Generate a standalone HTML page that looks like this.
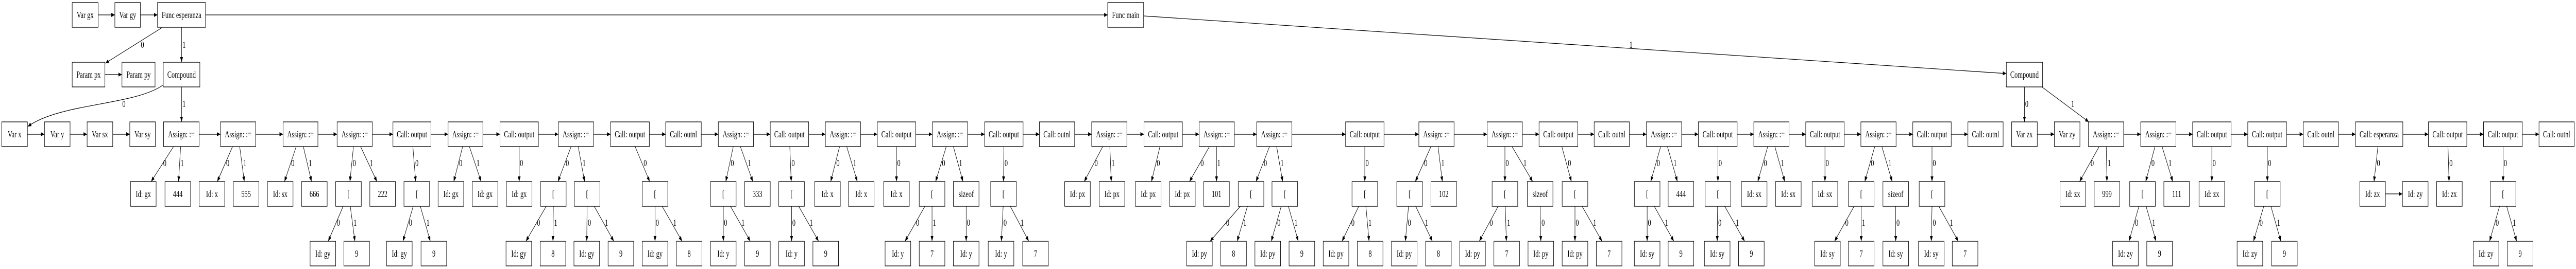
<!DOCTYPE html>
<html><head><meta charset="utf-8"><style>
html,body{margin:0;padding:0;background:#fff;width:100%;height:100%;overflow:hidden}
svg{display:block;width:100vw;height:100vh}
rect{fill:#fff;stroke:#000;stroke-width:1.3}
text{font-family:"Liberation Serif",serif;font-size:18px;text-anchor:middle;fill:#000}
text.l{text-anchor:start}
line,path.e{stroke:#000;stroke-width:1.2;fill:none;marker-end:url(#a)}
</style></head><body>
<svg viewBox="0 0 7244 523" preserveAspectRatio="none" xmlns="http://www.w3.org/2000/svg">
<defs><marker id="a" markerWidth="10" markerHeight="8" refX="10" refY="4" orient="auto" markerUnits="userSpaceOnUse"><path d="M0,0L10,4L0,8z" fill="#000"/></marker></defs>

<!-- Row 1 -->
<rect x="203" y="5" width="73" height="48"/><text x="239.5" y="35">Var gx</text>
<rect x="323" y="5" width="72" height="48"/><text x="359" y="35">Var gy</text>
<rect x="443" y="5" width="135" height="48"/><text x="510.5" y="35">Func esperanza</text>
<rect x="3115" y="5" width="101" height="48"/><text x="3165.5" y="35">Func main</text>
<line x1="276" y1="29" x2="323" y2="29"/>
<line x1="395" y1="29" x2="443" y2="29"/>
<line x1="578" y1="29" x2="3115" y2="29"/>

<!-- Row 2 -->
<rect x="203" y="121" width="92" height="48"/><text x="249" y="151">Param px</text>
<rect x="343" y="121" width="93" height="48"/><text x="389.5" y="151">Param py</text>
<rect x="459" y="121" width="103" height="48"/><text x="510.5" y="151">Compound</text>
<rect x="5642" y="121" width="102" height="48"/><text x="5693" y="151">Compound</text>
<line x1="295" y1="145" x2="343" y2="145"/>
<line x1="455" y1="54" x2="296" y2="123"/><text class="l" x="396" y="93">0</text>
<line x1="510.5" y1="53" x2="510.5" y2="121"/><text class="l" x="513" y="93">1</text>
<line x1="3216" y1="31" x2="5642" y2="143"/><text class="l" x="4582" y="93">1</text>

<!-- Compound edges -->
<path class="e" d="M459,165 C380,205 170,200 78,246"/><text class="l" x="344" y="208">0</text>
<line x1="510.5" y1="169" x2="510.5" y2="237"/><text class="l" x="513" y="208">1</text>
<line x1="5693" y1="169" x2="5693" y2="237"/><text class="l" x="5695" y="208">0</text>
<line x1="5742" y1="169" x2="5874" y2="237"/><text class="l" x="5824" y="208">1</text>

<!-- Row 3 -->
<g>
<rect x="5" y="237" width="72" height="48"/><text x="41" y="267">Var x</text>
<rect x="125" y="237" width="72" height="48"/><text x="161" y="267">Var y</text>
<rect x="245" y="237" width="72" height="48"/><text x="281" y="267">Var sx</text>
<rect x="365" y="237" width="72" height="48"/><text x="401" y="267">Var sy</text>
<rect x="460" y="237" width="100" height="48"/><text x="510" y="267">Assign: :=</text>
<rect x="620" y="237" width="99" height="48"/><text x="669.5" y="267">Assign: :=</text>
<rect x="796" y="237" width="98" height="48"/><text x="845" y="267">Assign: :=</text>
<rect x="948" y="237" width="99" height="48"/><text x="997.5" y="267">Assign: :=</text>
<rect x="1105" y="237" width="107" height="48"/><text x="1158.5" y="267">Call: output</text>
<rect x="1260" y="237" width="98" height="48"/><text x="1309" y="267">Assign: :=</text>
<rect x="1406" y="237" width="108" height="48"/><text x="1460" y="267">Call: output</text>
<rect x="1570" y="237" width="99" height="48"/><text x="1619.5" y="267">Assign: :=</text>
<rect x="1717" y="237" width="109" height="48"/><text x="1771.5" y="267">Call: output</text>
<rect x="1872" y="237" width="100" height="48"/><text x="1922" y="267">Call: outnl</text>
<rect x="2020" y="237" width="99" height="48"/><text x="2069.5" y="267">Assign: :=</text>
<rect x="2166" y="237" width="108" height="48"/><text x="2220" y="267">Call: output</text>
<rect x="2321" y="237" width="99" height="48"/><text x="2370.5" y="267">Assign: :=</text>
<rect x="2467" y="237" width="108" height="48"/><text x="2521" y="267">Call: output</text>
<rect x="2622" y="237" width="99" height="48"/><text x="2671.5" y="267">Assign: :=</text>
<rect x="2769" y="237" width="108" height="48"/><text x="2823" y="267">Call: output</text>
<rect x="2923" y="237" width="99" height="48"/><text x="2972.5" y="267">Call: outnl</text>
<rect x="3070" y="237" width="99" height="48"/><text x="3119.5" y="267">Assign: :=</text>
<rect x="3217" y="237" width="108" height="48"/><text x="3271" y="267">Call: output</text>
<rect x="3372" y="237" width="99" height="48"/><text x="3421.5" y="267">Assign: :=</text>
<rect x="3534" y="237" width="99" height="48"/><text x="3583.5" y="267">Assign: :=</text>
<rect x="3784" y="237" width="108" height="48"/><text x="3838" y="267">Call: output</text>
<rect x="3990" y="237" width="99" height="48"/><text x="4039.5" y="267">Assign: :=</text>
<rect x="4182" y="237" width="99" height="48"/><text x="4231.5" y="267">Assign: :=</text>
<rect x="4328" y="237" width="109" height="48"/><text x="4382.5" y="267">Call: output</text>
<rect x="4483" y="237" width="99" height="48"/><text x="4532.5" y="267">Call: outnl</text>
<rect x="4630" y="237" width="99" height="48"/><text x="4679.5" y="267">Assign: :=</text>
<rect x="4776" y="237" width="109" height="48"/><text x="4830.5" y="267">Call: output</text>
<rect x="4932" y="237" width="99" height="48"/><text x="4981.5" y="267">Assign: :=</text>
<rect x="5078" y="237" width="108" height="48"/><text x="5132" y="267">Call: output</text>
<rect x="5233" y="237" width="99" height="48"/><text x="5282.5" y="267">Assign: :=</text>
<rect x="5379" y="237" width="108" height="48"/><text x="5433" y="267">Call: output</text>
<rect x="5534" y="237" width="99" height="48"/><text x="5583.5" y="267">Call: outnl</text>
<rect x="5657" y="237" width="72" height="48"/><text x="5693" y="267">Var zx</text>
<rect x="5777" y="237" width="72" height="48"/><text x="5813" y="267">Var zy</text>
<rect x="5873" y="237" width="99" height="48"/><text x="5922.5" y="267">Assign: :=</text>
<rect x="6020" y="237" width="99" height="48"/><text x="6069.5" y="267">Assign: :=</text>
<rect x="6166" y="237" width="108" height="48"/><text x="6220" y="267">Call: output</text>
<rect x="6321" y="237" width="109" height="48"/><text x="6375.5" y="267">Call: output</text>
<rect x="6477" y="237" width="99" height="48"/><text x="6526.5" y="267">Call: outnl</text>
<rect x="6624" y="237" width="133" height="48"/><text x="6690.5" y="267">Call: esperanza</text>
<rect x="6829" y="237" width="108" height="48"/><text x="6883" y="267">Call: output</text>
<rect x="6984" y="237" width="109" height="48"/><text x="7038.5" y="267">Call: output</text>
<rect x="7140" y="237" width="99" height="48"/><text x="7189.5" y="267">Call: outnl</text>
</g>
<g>
<line x1="77" y1="261" x2="125" y2="261"/><line x1="197" y1="261" x2="245" y2="261"/><line x1="317" y1="261" x2="365" y2="261"/>
<line x1="560" y1="261" x2="620" y2="261"/><line x1="719" y1="261" x2="796" y2="261"/><line x1="894" y1="261" x2="948" y2="261"/>
<line x1="1047" y1="261" x2="1105" y2="261"/><line x1="1212" y1="261" x2="1260" y2="261"/><line x1="1358" y1="261" x2="1406" y2="261"/>
<line x1="1514" y1="261" x2="1570" y2="261"/><line x1="1669" y1="261" x2="1717" y2="261"/><line x1="1826" y1="261" x2="1872" y2="261"/>
<line x1="1972" y1="261" x2="2020" y2="261"/><line x1="2119" y1="261" x2="2166" y2="261"/><line x1="2274" y1="261" x2="2321" y2="261"/>
<line x1="2420" y1="261" x2="2467" y2="261"/><line x1="2575" y1="261" x2="2622" y2="261"/><line x1="2721" y1="261" x2="2769" y2="261"/>
<line x1="2877" y1="261" x2="2923" y2="261"/><line x1="3022" y1="261" x2="3070" y2="261"/><line x1="3169" y1="261" x2="3217" y2="261"/>
<line x1="3325" y1="261" x2="3372" y2="261"/><line x1="3471" y1="261" x2="3534" y2="261"/><line x1="3633" y1="261" x2="3784" y2="261"/>
<line x1="3892" y1="261" x2="3990" y2="261"/><line x1="4089" y1="261" x2="4182" y2="261"/><line x1="4281" y1="261" x2="4328" y2="261"/>
<line x1="4437" y1="261" x2="4483" y2="261"/><line x1="4582" y1="261" x2="4630" y2="261"/><line x1="4729" y1="261" x2="4776" y2="261"/>
<line x1="4885" y1="261" x2="4932" y2="261"/><line x1="5031" y1="261" x2="5078" y2="261"/><line x1="5186" y1="261" x2="5233" y2="261"/>
<line x1="5332" y1="261" x2="5379" y2="261"/><line x1="5487" y1="261" x2="5534" y2="261"/>
<line x1="5729" y1="261" x2="5777" y2="261"/>
<line x1="5972" y1="261" x2="6020" y2="261"/><line x1="6119" y1="261" x2="6166" y2="261"/><line x1="6274" y1="261" x2="6321" y2="261"/>
<line x1="6430" y1="261" x2="6477" y2="261"/><line x1="6576" y1="261" x2="6624" y2="261"/><line x1="6757" y1="261" x2="6829" y2="261"/>
<line x1="6937" y1="261" x2="6984" y2="261"/><line x1="7093" y1="261" x2="7140" y2="261"/>
</g>

<!-- Row 4 -->
<g>
<rect x="367" y="353" width="72" height="48"/><text x="403" y="383">Id: gx</text>
<rect x="464" y="353" width="72" height="48"/><text x="500" y="383">444</text>
<rect x="560" y="353" width="72" height="48"/><text x="596" y="383">Id: x</text>
<rect x="656" y="353" width="72" height="48"/><text x="692" y="383">555</text>
<rect x="752" y="353" width="72" height="48"/><text x="788" y="383">Id: sx</text>
<rect x="848" y="353" width="72" height="48"/><text x="884" y="383">666</text>
<rect x="944" y="353" width="72" height="48"/><text x="980" y="383">[</text>
<rect x="1040" y="353" width="72" height="48"/><text x="1076" y="383">222</text>
<rect x="1136" y="353" width="72" height="48"/><text x="1172" y="383">[</text>
<rect x="1232" y="353" width="72" height="48"/><text x="1268" y="383">Id: gx</text>
<rect x="1328" y="353" width="72" height="48"/><text x="1364" y="383">Id: gx</text>
<rect x="1424" y="353" width="72" height="48"/><text x="1460" y="383">Id: gx</text>
<rect x="1520" y="353" width="72" height="48"/><text x="1556" y="383">[</text>
<rect x="1615" y="353" width="72" height="48"/><text x="1651" y="383">[</text>
<rect x="1806" y="353" width="72" height="48"/><text x="1842" y="383">[</text>
<rect x="1998" y="353" width="72" height="48"/><text x="2034" y="383">[</text>
<rect x="2094" y="353" width="72" height="48"/><text x="2130" y="383">333</text>
<rect x="2190" y="353" width="72" height="48"/><text x="2226" y="383">[</text>
<rect x="2291" y="353" width="72" height="48"/><text x="2327" y="383">Id: x</text>
<rect x="2386" y="353" width="72" height="48"/><text x="2422" y="383">Id: x</text>
<rect x="2485" y="353" width="72" height="48"/><text x="2521" y="383">Id: x</text>
<rect x="2585" y="353" width="72" height="48"/><text x="2621" y="383">[</text>
<rect x="2681" y="353" width="72" height="48"/><text x="2717" y="383">sizeof</text>
<rect x="2786" y="353" width="72" height="48"/><text x="2822" y="383">[</text>
<rect x="2994" y="353" width="72" height="48"/><text x="3030" y="383">Id: px</text>
<rect x="3091" y="353" width="72" height="48"/><text x="3127" y="383">Id: px</text>
<rect x="3193" y="353" width="72" height="48"/><text x="3229" y="383">Id: px</text>
<rect x="3289" y="353" width="72" height="48"/><text x="3325" y="383">Id: px</text>
<rect x="3385" y="353" width="72" height="48"/><text x="3421" y="383">101</text>
<rect x="3482" y="353" width="72" height="48"/><text x="3518" y="383">[</text>
<rect x="3577" y="353" width="72" height="48"/><text x="3613" y="383">[</text>
<rect x="3802" y="353" width="72" height="48"/><text x="3838" y="383">[</text>
<rect x="3928" y="353" width="72" height="48"/><text x="3964" y="383">[</text>
<rect x="4024" y="353" width="72" height="48"/><text x="4060" y="383">102</text>
<rect x="4196" y="353" width="72" height="48"/><text x="4232" y="383">[</text>
<rect x="4295" y="353" width="72" height="48"/><text x="4331" y="383">sizeof</text>
<rect x="4393" y="353" width="72" height="48"/><text x="4429" y="383">[</text>
<rect x="4596" y="353" width="72" height="48"/><text x="4632" y="383">[</text>
<rect x="4691" y="353" width="72" height="48"/><text x="4727" y="383">444</text>
<rect x="4795" y="353" width="72" height="48"/><text x="4831" y="383">[</text>
<rect x="4897" y="353" width="72" height="48"/><text x="4933" y="383">Id: sx</text>
<rect x="4993" y="353" width="72" height="48"/><text x="5029" y="383">Id: sx</text>
<rect x="5096" y="353" width="72" height="48"/><text x="5132" y="383">Id: sx</text>
<rect x="5198" y="353" width="72" height="48"/><text x="5234" y="383">[</text>
<rect x="5295" y="353" width="72" height="48"/><text x="5331" y="383">sizeof</text>
<rect x="5397" y="353" width="72" height="48"/><text x="5433" y="383">[</text>
<rect x="5793" y="353" width="72" height="48"/><text x="5829" y="383">Id: zx</text>
<rect x="5889" y="353" width="72" height="48"/><text x="5925" y="383">999</text>
<rect x="5989" y="353" width="72" height="48"/><text x="6025" y="383">[</text>
<rect x="6085" y="353" width="72" height="48"/><text x="6121" y="383">111</text>
<rect x="6184" y="353" width="72" height="48"/><text x="6220" y="383">Id: zx</text>
<rect x="6340" y="353" width="72" height="48"/><text x="6376" y="383">[</text>
<rect x="6636" y="353" width="72" height="48"/><text x="6672" y="383">Id: zx</text>
<rect x="6756" y="353" width="72" height="48"/><text x="6792" y="383">Id: zy</text>
<rect x="6852" y="353" width="72" height="48"/><text x="6888" y="383">Id: zx</text>
<rect x="7003" y="353" width="72" height="48"/><text x="7039" y="383">[</text>
<line x1="6708" y1="377" x2="6756" y2="377"/>
</g>

<!-- Row 3 -> Row 4 edges -->
<g>
<line x1="488" y1="285" x2="425" y2="353"/><text class="l" x="459" y="323">0</text>
<line x1="508" y1="285" x2="502" y2="353"/><text class="l" x="508" y="323">1</text>
<line x1="654" y1="285" x2="611" y2="353"/><text class="l" x="636" y="323">0</text>
<line x1="674" y1="285" x2="687" y2="353"/><text class="l" x="684" y="323">1</text>
<line x1="833" y1="285" x2="800" y2="353"/><text class="l" x="819" y="323">0</text>
<line x1="853" y1="285" x2="876" y2="353"/><text class="l" x="868" y="323">1</text>
<line x1="994" y1="285" x2="984" y2="353"/><text class="l" x="992" y="323">0</text>
<line x1="1014" y1="285" x2="1060" y2="353"/><text class="l" x="1040" y="323">1</text>
<line x1="1161" y1="285" x2="1169" y2="353"/><text class="l" x="1168" y="323">0</text>
<line x1="1301" y1="285" x2="1276" y2="353"/><text class="l" x="1291" y="323">0</text>
<line x1="1320" y1="285" x2="1353" y2="353"/><text class="l" x="1340" y="323">1</text>
<line x1="1460" y1="285" x2="1460" y2="353"/><text class="l" x="1462" y="323">0</text>
<line x1="1606" y1="285" x2="1569" y2="353"/><text class="l" x="1591" y="323">0</text>
<line x1="1626" y1="285" x2="1644" y2="353"/><text class="l" x="1638" y="323">1</text>
<line x1="1786" y1="285" x2="1827" y2="353"/><text class="l" x="1810" y="323">0</text>
<line x1="2062" y1="285" x2="2041" y2="353"/><text class="l" x="2055" y="323">0</text>
<line x1="2082" y1="285" x2="2117" y2="353"/><text class="l" x="2103" y="323">1</text>
<line x1="2221" y1="285" x2="2225" y2="353"/><text class="l" x="2226" y="323">0</text>
<line x1="2361" y1="285" x2="2336" y2="353"/><text class="l" x="2352" y="323">0</text>
<line x1="2381" y1="285" x2="2411" y2="353"/><text class="l" x="2399" y="323">1</text>
<line x1="2521" y1="285" x2="2521" y2="353"/><text class="l" x="2523" y="323">0</text>
<line x1="2661" y1="285" x2="2631" y2="353"/><text class="l" x="2649" y="323">0</text>
<line x1="2681" y1="285" x2="2708" y2="353"/><text class="l" x="2697" y="323">1</text>
<line x1="2823" y1="285" x2="2822" y2="353"/><text class="l" x="2825" y="323">0</text>
<line x1="3101" y1="285" x2="3049" y2="353"/><text class="l" x="3078" y="323">0</text>
<line x1="3121" y1="285" x2="3125" y2="353"/><text class="l" x="3126" y="323">1</text>
<line x1="3262" y1="285" x2="3238" y2="353"/><text class="l" x="3253" y="323">0</text>
<line x1="3401" y1="285" x2="3345" y2="353"/><text class="l" x="3376" y="323">0</text>
<line x1="3421" y1="285" x2="3421" y2="353"/><text class="l" x="3423" y="323">1</text>
<line x1="3570" y1="285" x2="3532" y2="353"/><text class="l" x="3554" y="323">0</text>
<line x1="3590" y1="285" x2="3607" y2="353"/><text class="l" x="3601" y="323">1</text>
<line x1="3838" y1="285" x2="3838" y2="353"/><text class="l" x="3840" y="323">0</text>
<line x1="4024" y1="285" x2="3980" y2="353"/><text class="l" x="4005" y="323">0</text>
<line x1="4044" y1="285" x2="4056" y2="353"/><text class="l" x="4053" y="323">1</text>
<line x1="4232" y1="285" x2="4232" y2="353"/><text class="l" x="4234" y="323">0</text>
<line x1="4252" y1="285" x2="4310" y2="353"/><text class="l" x="4284" y="323">1</text>
<line x1="4392" y1="285" x2="4419" y2="353"/><text class="l" x="4409" y="323">0</text>
<line x1="4670" y1="285" x2="4642" y2="353"/><text class="l" x="4659" y="323">0</text>
<line x1="4689" y1="285" x2="4717" y2="353"/><text class="l" x="4706" y="323">1</text>
<line x1="4831" y1="285" x2="4831" y2="353"/><text class="l" x="4833" y="323">0</text>
<line x1="4971" y1="285" x2="4943" y2="353"/><text class="l" x="4960" y="323">0</text>
<line x1="4991" y1="285" x2="5019" y2="353"/><text class="l" x="5008" y="323">1</text>
<line x1="5132" y1="285" x2="5132" y2="353"/><text class="l" x="5134" y="323">0</text>
<line x1="5272" y1="285" x2="5244" y2="353"/><text class="l" x="5261" y="323">0</text>
<line x1="5292" y1="285" x2="5321" y2="353"/><text class="l" x="5310" y="323">1</text>
<line x1="5433" y1="285" x2="5433" y2="353"/><text class="l" x="5435" y="323">0</text>
<line x1="5903" y1="285" x2="5848" y2="353"/><text class="l" x="5879" y="323">0</text>
<line x1="5923" y1="285" x2="5925" y2="353"/><text class="l" x="5927" y="323">1</text>
<line x1="6060" y1="285" x2="6034" y2="353"/><text class="l" x="6050" y="323">0</text>
<line x1="6080" y1="285" x2="6110" y2="353"/><text class="l" x="6098" y="323">1</text>
<line x1="6220" y1="285" x2="6220" y2="353"/><text class="l" x="6222" y="323">0</text>
<line x1="6376" y1="285" x2="6376" y2="353"/><text class="l" x="6378" y="323">0</text>
<line x1="6687" y1="285" x2="6676" y2="353"/><text class="l" x="6684" y="323">0</text>
<line x1="6884" y1="285" x2="6887" y2="353"/><text class="l" x="6888" y="323">0</text>
<line x1="7039" y1="285" x2="7039" y2="353"/><text class="l" x="7041" y="323">0</text>
</g>

<!-- Row 5 -->
<g>
<rect x="872" y="469" width="72" height="48"/><text x="908" y="499">Id: gy</text>
<rect x="967" y="469" width="72" height="48"/><text x="1003" y="499">9</text>
<rect x="1087" y="469" width="72" height="48"/><text x="1123" y="499">Id: gy</text>
<rect x="1184" y="469" width="72" height="48"/><text x="1220" y="499">9</text>
<rect x="1423" y="469" width="72" height="48"/><text x="1459" y="499">Id: gy</text>
<rect x="1519" y="469" width="72" height="48"/><text x="1555" y="499">8</text>
<rect x="1614" y="469" width="72" height="48"/><text x="1650" y="499">Id: gy</text>
<rect x="1710" y="469" width="72" height="48"/><text x="1746" y="499">9</text>
<rect x="1806" y="469" width="72" height="48"/><text x="1842" y="499">Id: gy</text>
<rect x="1902" y="469" width="72" height="48"/><text x="1938" y="499">8</text>
<rect x="1998" y="469" width="72" height="48"/><text x="2034" y="499">Id: y</text>
<rect x="2094" y="469" width="72" height="48"/><text x="2130" y="499">9</text>
<rect x="2190" y="469" width="72" height="48"/><text x="2226" y="499">Id: y</text>
<rect x="2286" y="469" width="72" height="48"/><text x="2322" y="499">9</text>
<rect x="2489" y="469" width="72" height="48"/><text x="2525" y="499">Id: y</text>
<rect x="2585" y="469" width="72" height="48"/><text x="2621" y="499">7</text>
<rect x="2681" y="469" width="72" height="48"/><text x="2717" y="499">Id: y</text>
<rect x="2779" y="469" width="72" height="48"/><text x="2815" y="499">Id: y</text>
<rect x="2876" y="469" width="72" height="48"/><text x="2912" y="499">7</text>
<rect x="3337" y="469" width="72" height="48"/><text x="3373" y="499">Id: py</text>
<rect x="3433" y="469" width="72" height="48"/><text x="3469" y="499">8</text>
<rect x="3529" y="469" width="72" height="48"/><text x="3565" y="499">Id: py</text>
<rect x="3625" y="469" width="72" height="48"/><text x="3661" y="499">9</text>
<rect x="3721" y="469" width="72" height="48"/><text x="3757" y="499">Id: py</text>
<rect x="3817" y="469" width="72" height="48"/><text x="3853" y="499">8</text>
<rect x="3913" y="469" width="72" height="48"/><text x="3949" y="499">Id: py</text>
<rect x="4009" y="469" width="72" height="48"/><text x="4045" y="499">8</text>
<rect x="4105" y="469" width="72" height="48"/><text x="4141" y="499">Id: py</text>
<rect x="4201" y="469" width="72" height="48"/><text x="4237" y="499">7</text>
<rect x="4297" y="469" width="72" height="48"/><text x="4333" y="499">Id: py</text>
<rect x="4393" y="469" width="72" height="48"/><text x="4429" y="499">Id: py</text>
<rect x="4489" y="469" width="72" height="48"/><text x="4525" y="499">7</text>
<rect x="4596" y="469" width="72" height="48"/><text x="4632" y="499">Id: sy</text>
<rect x="4691" y="469" width="72" height="48"/><text x="4727" y="499">9</text>
<rect x="4793" y="469" width="72" height="48"/><text x="4829" y="499">Id: sy</text>
<rect x="4889" y="469" width="72" height="48"/><text x="4925" y="499">9</text>
<rect x="5103" y="469" width="72" height="48"/><text x="5139" y="499">Id: sy</text>
<rect x="5198" y="469" width="72" height="48"/><text x="5234" y="499">7</text>
<rect x="5295" y="469" width="72" height="48"/><text x="5331" y="499">Id: sy</text>
<rect x="5395" y="469" width="72" height="48"/><text x="5431" y="499">Id: sy</text>
<rect x="5490" y="469" width="72" height="48"/><text x="5526" y="499">7</text>
<rect x="5941" y="469" width="72" height="48"/><text x="5977" y="499">Id: zy</text>
<rect x="6037" y="469" width="72" height="48"/><text x="6073" y="499">9</text>
<rect x="6291" y="469" width="72" height="48"/><text x="6327" y="499">Id: zy</text>
<rect x="6388" y="469" width="72" height="48"/><text x="6424" y="499">9</text>
<rect x="6955" y="469" width="72" height="48"/><text x="6991" y="499">Id: zy</text>
<rect x="7051" y="469" width="72" height="48"/><text x="7087" y="499">9</text>
</g>

<!-- Row 4 -> Row 5 edges -->
<g>
<line x1="965" y1="401" x2="923" y2="469"/><text class="l" x="947" y="439">0</text>
<line x1="985" y1="401" x2="998" y2="469"/><text class="l" x="994" y="439">1</text>
<line x1="1162" y1="401" x2="1133" y2="469"/><text class="l" x="1150" y="439">0</text>
<line x1="1182" y1="401" x2="1210" y2="469"/><text class="l" x="1199" y="439">1</text>
<line x1="1536" y1="401" x2="1479" y2="469"/><text class="l" x="1510" y="439">0</text>
<line x1="1556" y1="401" x2="1555" y2="469"/><text class="l" x="1558" y="439">1</text>
<line x1="1651" y1="401" x2="1650" y2="469"/><text class="l" x="1653" y="439">0</text>
<line x1="1671" y1="401" x2="1726" y2="469"/><text class="l" x="1701" y="439">1</text>
<line x1="1842" y1="401" x2="1842" y2="469"/><text class="l" x="1844" y="439">0</text>
<line x1="1862" y1="401" x2="1918" y2="469"/><text class="l" x="1893" y="439">1</text>
<line x1="2034" y1="401" x2="2034" y2="469"/><text class="l" x="2036" y="439">0</text>
<line x1="2054" y1="401" x2="2110" y2="469"/><text class="l" x="2085" y="439">1</text>
<line x1="2226" y1="401" x2="2226" y2="469"/><text class="l" x="2228" y="439">0</text>
<line x1="2246" y1="401" x2="2302" y2="469"/><text class="l" x="2277" y="439">1</text>
<line x1="2601" y1="401" x2="2545" y2="469"/><text class="l" x="2576" y="439">0</text>
<line x1="2621" y1="401" x2="2621" y2="469"/><text class="l" x="2623" y="439">1</text>
<line x1="2717" y1="401" x2="2717" y2="469"/><text class="l" x="2719" y="439">0</text>
<line x1="2821" y1="401" x2="2816" y2="469"/><text class="l" x="2822" y="439">0</text>
<line x1="2841" y1="401" x2="2893" y2="469"/><text class="l" x="2870" y="439">1</text>
<line x1="3488" y1="401" x2="3403" y2="469"/><text class="l" x="3448" y="439">0</text>
<line x1="3508" y1="401" x2="3479" y2="469"/><text class="l" x="3496" y="439">1</text>
<line x1="3603" y1="401" x2="3575" y2="469"/><text class="l" x="3592" y="439">0</text>
<line x1="3623" y1="401" x2="3651" y2="469"/><text class="l" x="3640" y="439">1</text>
<line x1="3821" y1="401" x2="3774" y2="469"/><text class="l" x="3800" y="439">0</text>
<line x1="3841" y1="401" x2="3850" y2="469"/><text class="l" x="3848" y="439">1</text>
<line x1="3961" y1="401" x2="3952" y2="469"/><text class="l" x="3959" y="439">0</text>
<line x1="3981" y1="401" x2="4028" y2="469"/><text class="l" x="4007" y="439">1</text>
<line x1="4213" y1="401" x2="4160" y2="469"/><text class="l" x="4189" y="439">0</text>
<line x1="4233" y1="401" x2="4236" y2="469"/><text class="l" x="4238" y="439">1</text>
<line x1="4331" y1="401" x2="4333" y2="469"/><text class="l" x="4335" y="439">0</text>
<line x1="4429" y1="401" x2="4429" y2="469"/><text class="l" x="4431" y="439">0</text>
<line x1="4449" y1="401" x2="4505" y2="469"/><text class="l" x="4480" y="439">1</text>
<line x1="4632" y1="401" x2="4632" y2="469"/><text class="l" x="4634" y="439">0</text>
<line x1="4652" y1="401" x2="4707" y2="469"/><text class="l" x="4682" y="439">1</text>
<line x1="4830" y1="401" x2="4829" y2="469"/><text class="l" x="4832" y="439">0</text>
<line x1="4850" y1="401" x2="4906" y2="469"/><text class="l" x="4881" y="439">1</text>
<line x1="5214" y1="401" x2="5159" y2="469"/><text class="l" x="5189" y="439">0</text>
<line x1="5234" y1="401" x2="5234" y2="469"/><text class="l" x="5236" y="439">1</text>
<line x1="5331" y1="401" x2="5331" y2="469"/><text class="l" x="5333" y="439">0</text>
<line x1="5433" y1="401" x2="5431" y2="469"/><text class="l" x="5435" y="439">0</text>
<line x1="5452" y1="401" x2="5507" y2="469"/><text class="l" x="5483" y="439">1</text>
<line x1="6015" y1="401" x2="5987" y2="469"/><text class="l" x="6004" y="439">0</text>
<line x1="6035" y1="401" x2="6063" y2="469"/><text class="l" x="6052" y="439">1</text>
<line x1="6366" y1="401" x2="6337" y2="469"/><text class="l" x="6354" y="439">0</text>
<line x1="6386" y1="401" x2="6414" y2="469"/><text class="l" x="6403" y="439">1</text>
<line x1="7029" y1="401" x2="7001" y2="469"/><text class="l" x="7018" y="439">0</text>
<line x1="7049" y1="401" x2="7077" y2="469"/><text class="l" x="7066" y="439">1</text>
</g>
</svg>
</body></html>
